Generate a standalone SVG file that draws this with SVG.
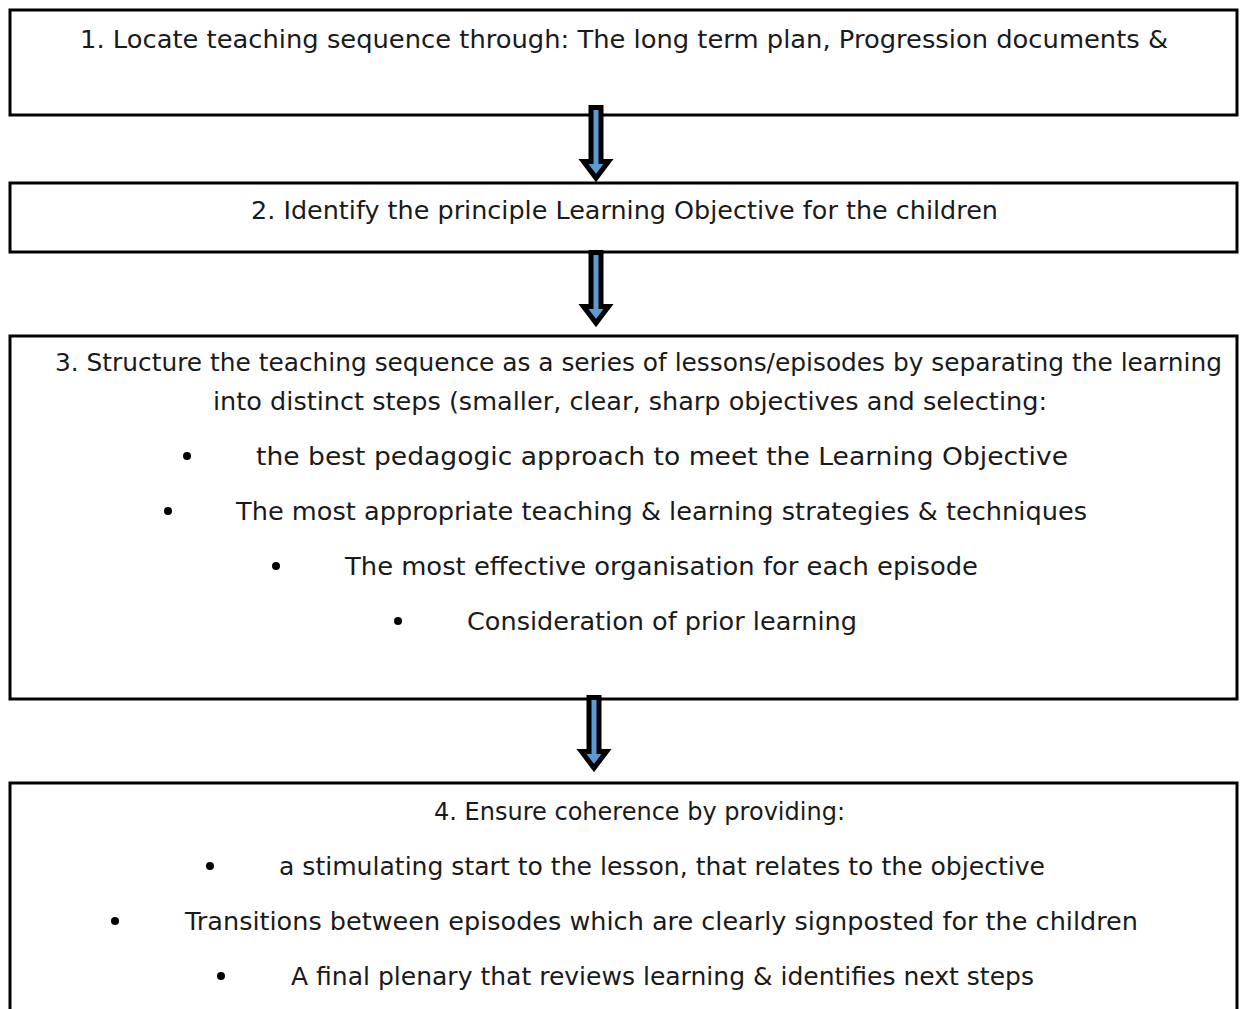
<svg xmlns="http://www.w3.org/2000/svg" width="1240" height="1009" viewBox="0 0 1240 1009">
<style>
.box{fill:#fff;stroke:#000;stroke-width:3}
.t{font-family:"DejaVu Sans","Liberation Sans",sans-serif;font-size:25px;fill:#1a1a1a}
.b{fill:#000}
.arr{fill:#5B9BD5;stroke:#000;stroke-width:5;stroke-linejoin:miter;stroke-miterlimit:10}
</style>
<defs>
<path id="dn" class="arr" d="M-5 2.5 L5 2.5 L5 56.5 L12.5 56.5 L0 73 L-12.5 56.5 L-5 56.5 Z"/>
</defs>
<rect width="1240" height="1009" fill="#fff"/>
<g id="node1">
<rect class="box" x="10" y="10" width="1227" height="105"/>
<text class="t" x="80" y="48" textLength="1088" lengthAdjust="spacingAndGlyphs">1. Locate teaching sequence through: The long term plan, Progression documents &amp;</text>
</g>
<g id="node2">
<rect class="box" x="10" y="183" width="1227" height="69"/>
<text class="t" x="251" y="219" textLength="747" lengthAdjust="spacingAndGlyphs">2. Identify the principle Learning Objective for the children</text>
</g>
<g id="node3">
<rect class="box" x="10" y="336" width="1227" height="363"/>
<text class="t" x="55" y="371" textLength="1167" lengthAdjust="spacingAndGlyphs">3. Structure the teaching sequence as a series of lessons/episodes by separating the learning</text>
<text class="t" x="213" y="410" textLength="834" lengthAdjust="spacingAndGlyphs">into distinct steps (smaller, clear, sharp objectives and selecting:</text>
<circle class="b" cx="187" cy="456" r="4"/>
<text class="t" x="256" y="465" textLength="812" lengthAdjust="spacingAndGlyphs">the best pedagogic approach to meet the Learning Objective</text>
<circle class="b" cx="168" cy="511" r="4"/>
<text class="t" x="236" y="520" textLength="851" lengthAdjust="spacingAndGlyphs">The most appropriate teaching &amp; learning strategies &amp; techniques</text>
<circle class="b" cx="276" cy="566" r="4"/>
<text class="t" x="345" y="575" textLength="633" lengthAdjust="spacingAndGlyphs">The most effective organisation for each episode</text>
<circle class="b" cx="398" cy="621" r="4"/>
<text class="t" x="467" y="630" textLength="390" lengthAdjust="spacingAndGlyphs">Consideration of prior learning</text>
</g>
<g id="node4">
<path class="box" fill="none" d="M10 1012 V783 H1237 V1012"/>
<text class="t" x="434" y="820" textLength="411" lengthAdjust="spacingAndGlyphs">4. Ensure coherence by providing:</text>
<circle class="b" cx="210" cy="866" r="4"/>
<text class="t" x="279" y="875" textLength="766" lengthAdjust="spacingAndGlyphs">a stimulating start to the lesson, that relates to the objective</text>
<circle class="b" cx="115" cy="921" r="4"/>
<text class="t" x="185" y="930" textLength="953" lengthAdjust="spacingAndGlyphs">Transitions between episodes which are clearly signposted for the children</text>
<circle class="b" cx="221" cy="976" r="4"/>
<text class="t" x="291" y="985" textLength="743" lengthAdjust="spacingAndGlyphs">A final plenary that reviews learning &amp; identifies next steps</text>
</g>
<g id="connectors">
<use href="#dn" transform="translate(596,105)"/>
<use href="#dn" transform="translate(596,250)"/>
<use href="#dn" transform="translate(594,695)"/>
</g>
</svg>
